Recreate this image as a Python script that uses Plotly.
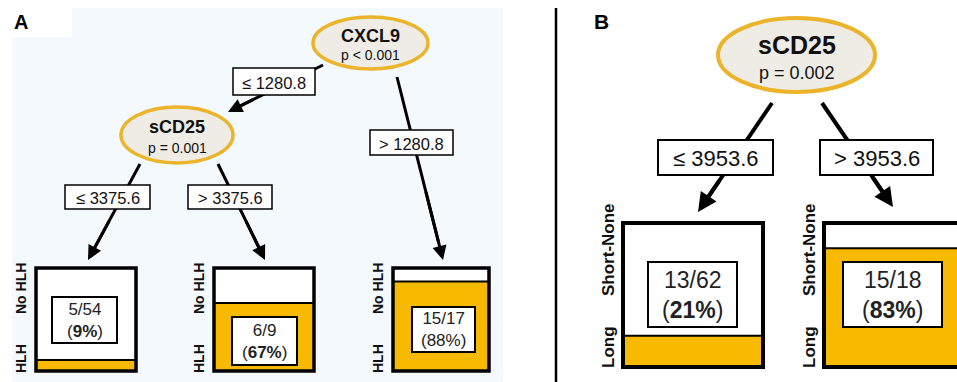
import plotly.graph_objects as go

# ---- tree content -------------------------------------------------------
a_split_vars = ["CXCL9", "sCD25"]
a_split_p = ["p < 0.001", "p = 0.001"]
a_cutoffs = [1280.8, 3375.6]
a_hits = [5, 6, 15]
a_totals = [54, 9, 17]
a_levels = ["No HLH", "HLH"]

b_split_var = "sCD25"
b_split_p = "p = 0.002"
b_cutoff = 3953.6
b_hits = [13, 15]
b_totals = [62, 18]
b_levels = ["Short-None", "Long"]

# ---- styling ------------------------------------------------------------
W, H = 957, 382
FONT = "Liberation Sans, Arial, sans-serif"
GOLD = "#F7BA00"
RING = "#EBB42A"
NODE_FILL = "#EEECE5"
PANEL_BG = "#F3F9FC"

shapes = []
annos = []


def text(x, y, s, size, bold=False, angle=0, color="#111111"):
    if bold:
        s = "<b>" + s + "</b>"
    annos.append(dict(x=x, y=y, xref="x", yref="y", text=s, showarrow=False,
                      xanchor="center", yanchor="middle", textangle=angle,
                      font=dict(family=FONT, size=size, color=color)))


def rect(x0, y0, x1, y1, fill="white", line="black", lw=0):
    shapes.append(dict(type="rect", xref="x", yref="y", x0=x0, y0=y0, x1=x1, y1=y1,
                       fillcolor=fill, line=dict(color=line, width=lw), layer="above"))


def node(x0, y0, x1, y1, name, p, size_name, size_p, lw):
    shapes.append(dict(type="circle", xref="x", yref="y", x0=x0, y0=y0, x1=x1, y1=y1,
                       fillcolor=NODE_FILL, line=dict(color=RING, width=lw), layer="above"))
    cx, cy = (x0 + x1) / 2, (y0 + y1) / 2
    h = y1 - y0
    text(cx, cy - h * 0.14, name, size_name, bold=True)
    text(cx, cy + h * 0.24, p, size_p)


def edge(start, tip, frac, lw, head):
    (xa, ya), (xb, yb) = start, tip
    # stem, stopping short of the tip so the head closes it
    xe, ye = xa + (xb - xa) * 0.9, ya + (yb - ya) * 0.9
    shapes.append(dict(type="line", xref="x", yref="y", x0=xa, y0=ya, x1=xe, y1=ye,
                       line=dict(color="black", width=lw), layer="above"))
    xs, ys = xa + (xb - xa) * frac, ya + (yb - ya) * frac
    annos.append(dict(x=xb, y=yb, ax=xs, ay=ys, xref="x", yref="y", axref="x", ayref="y",
                      text="", showarrow=True, arrowhead=2, arrowsize=head,
                      arrowwidth=lw, arrowcolor="black", standoff=0, startstandoff=0))


def cut_label(x0, y0, x1, y1, s, size, lw):
    rect(x0, y0, x1, y1, fill="white", line="black", lw=lw)
    text((x0 + x1) / 2, (y0 + y1) / 2 + 1, s, size)


def leaf(x0, y0, x1, y1, hit, tot, tb, size, bold_pct, lw, labels, lab_size, lab_dx, lab_dy):
    frac = hit / tot
    pct = round(100 * frac)
    inner_top, inner_bot = y0 + lw / 2, y1 - lw / 2
    fill_top = inner_bot - frac * (inner_bot - inner_top)
    rect(x0, y0, x1, y1, fill="white", line="black", lw=0)
    rect(x0, fill_top, x1, y1, fill=GOLD, line=GOLD, lw=0)
    shapes.append(dict(type="line", xref="x", yref="y", x0=x0, x1=x1, y0=fill_top, y1=fill_top,
                       line=dict(color="black", width=2), layer="above"))
    rect(x0, y0, x1, y1, fill="rgba(0,0,0,0)", line="black", lw=lw)
    tx0, ty0, tx1, ty1 = tb
    rect(tx0, ty0, tx1, ty1, fill="white", line="black", lw=2)
    pct_s = f"{pct}%"
    if bold_pct:
        pct_s = "<b>" + pct_s + "</b>"
    annos.append(dict(x=(tx0 + tx1) / 2, y=(ty0 + ty1) / 2, xref="x", yref="y",
                      text=f"{hit}/{tot}<br>({pct_s})", showarrow=False,
                      xanchor="center", yanchor="middle",
                      font=dict(family=FONT, size=size, color="#222222")))
    text(x0 - lab_dx, y0 + lab_dy[0], labels[0], lab_size, bold=True, angle=-90)
    text(x0 - lab_dx, y1 - lab_dy[1], labels[1], lab_size, bold=True, angle=-90)


# ---- panel A ------------------------------------------------------------
shapes.append(dict(type="rect", xref="x", yref="y", x0=12, y0=8, x1=503, y1=H + 2,
                   fillcolor=PANEL_BG, line=dict(width=0), layer="below"))
shapes.append(dict(type="rect", xref="x", yref="y", x0=12, y0=8, x1=72, y1=37,
                   fillcolor="white", line=dict(width=0), layer="below"))
text(21, 22, "A", 20, bold=True, color="black")

edge((323, 65), (228, 112), 0.72, 3, 0.95)
edge((397, 77), (443, 260), 0.62, 3, 0.95)
edge((140, 164), (88, 260), 0.58, 3, 0.95)
edge((218, 164), (265, 260), 0.58, 3, 0.95)

node(313, 17, 428, 69, a_split_vars[0], a_split_p[0], 18, 14, 3.5)
node(121, 107, 233, 163, a_split_vars[1], a_split_p[1], 18, 14, 3.5)

cut_label(233, 68, 315, 95, f"≤ {a_cutoffs[0]}", 16.5, 1.5)
cut_label(370, 130, 453, 155, f"> {a_cutoffs[0]}", 16.5, 1.5)
cut_label(65, 185, 150, 209, f"≤ {a_cutoffs[1]}", 16.5, 1.5)
cut_label(188, 185, 272, 209, f"> {a_cutoffs[1]}", 16.5, 1.5)

a_boxes = [(36, 268, 136, 371), (214, 268, 314, 371), (393, 268, 489, 371)]
a_text_boxes = [(52, 297, 117, 343), (232, 317, 297, 365), (412, 307, 475, 352)]
a_bold_pct = [True, True, False]
for (bx0, by0, bx1, by1), tb, hit, tot, bp in zip(a_boxes, a_text_boxes, a_hits, a_totals, a_bold_pct):
    leaf(bx0, by0, bx1, by1, hit, tot, tb, 17, bp, 3.5, a_levels, 14, 15, (21, 12))

# ---- divider ------------------------------------------------------------
shapes.append(dict(type="line", xref="x", yref="y", x0=556, x1=556, y0=8, y1=H + 2,
                   line=dict(color="black", width=2.5), layer="above"))

# ---- panel B ------------------------------------------------------------
text(601, 21, "B", 21, bold=True, color="black")

edge((772, 103), (698, 212), 0.7, 4, 0.95)
edge((822, 103), (893, 207), 0.7, 4, 0.95)

node(718, 18, 875, 92, b_split_var, b_split_p, 25, 18, 4)

cut_label(658, 140, 773, 175, f"≤ {b_cutoff}", 22, 2)
cut_label(820, 140, 933, 175, f"> {b_cutoff}", 22, 2)

b_boxes = [(623, 223, 763, 367), (824, 223, 964, 367)]
b_text_boxes = [(648, 262, 737, 327), (843, 262, 942, 327)]
for (bx0, by0, bx1, by1), tb, hit, tot in zip(b_boxes, b_text_boxes, b_hits, b_totals):
    leaf(bx0, by0, bx1, by1, hit, tot, tb, 23, True, 4, b_levels, 17, 15, (27, 20))

fig = go.Figure()
fig.update_layout(
    width=W, height=H,
    margin=dict(l=0, r=0, t=0, b=0),
    paper_bgcolor="white", plot_bgcolor="white",
    xaxis=dict(range=[0, W], visible=False, fixedrange=True),
    yaxis=dict(range=[H, 0], visible=False, fixedrange=True),
    shapes=shapes, annotations=annos, showlegend=False,
)
fig.write_html("out.html", config={"displayModeBar": False})
